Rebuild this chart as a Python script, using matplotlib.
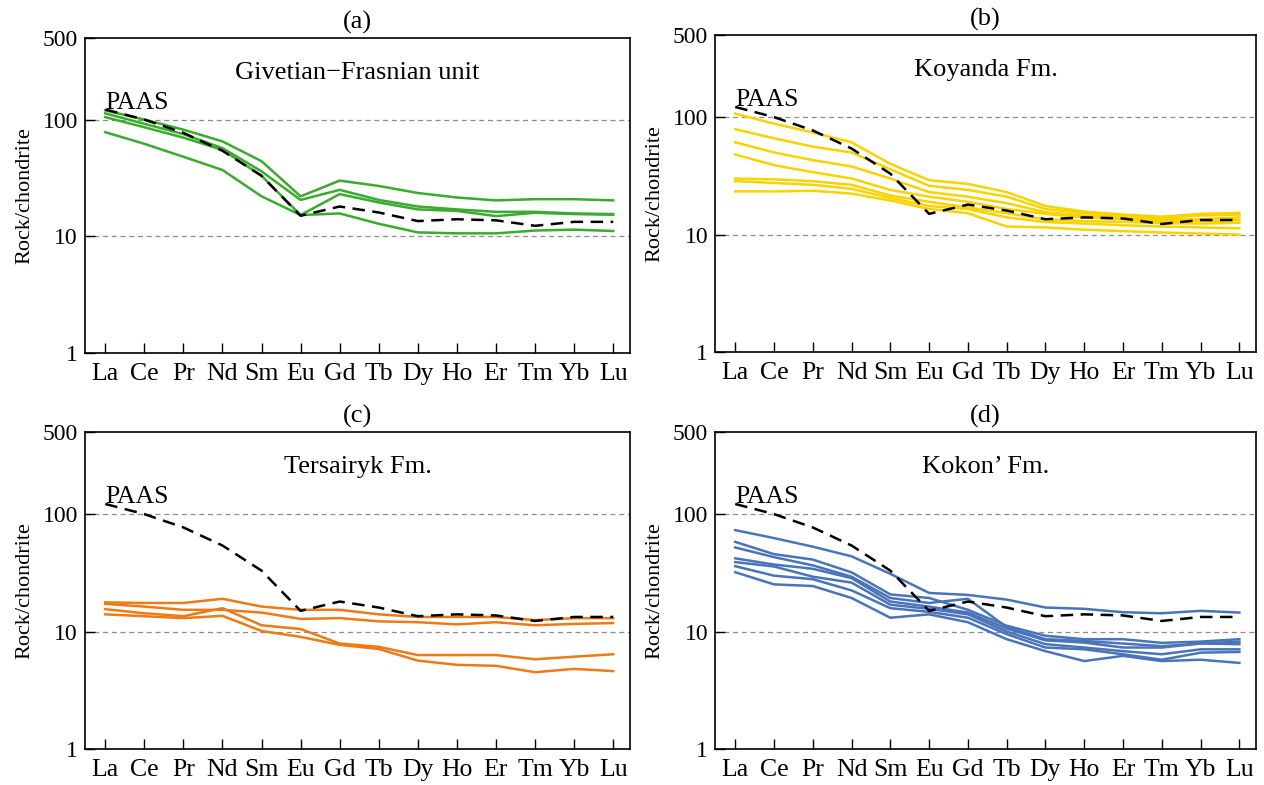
import matplotlib
matplotlib.use("Agg")
import matplotlib.pyplot as plt
from matplotlib.ticker import NullLocator

plt.rcParams['font.family'] = ['Liberation Serif', 'DejaVu Serif']

# REE order on the x axis
elements = ['La', 'Ce', 'Pr', 'Nd', 'Sm', 'Eu', 'Gd', 'Tb', 'Dy', 'Ho', 'Er', 'Tm', 'Yb', 'Lu']

# PAAS, chondrite normalised
paas = [122, 100, 77, 54, 33, 15, 18, 16, 13.5, 14, 13.7, 12.3, 13.3, 13.3]

# (a) Givetian-Frasnian unit
giv_1 = [120, 100, 82, 65, 44, 22, 30, 27, 23.5, 21.5, 20.3, 20.8, 20.8, 20.3]
giv_2 = [113, 92, 75, 57, 36, 20.5, 25, 20.5, 18, 17, 16.2, 16.2, 15.7, 15.5]
giv_3 = [105, 86, 70, 55, 33, 15.2, 23, 19.5, 17, 16.5, 14.9, 15.9, 15.5, 15.3]
giv_4 = [78, 62, 48, 37, 22, 15.2, 15.7, 12.8, 10.8, 10.6, 10.6, 11.2, 11.4, 11.1]

# (b) Koyanda Fm.
koy_1 = [107, 88, 74, 61, 40, 29, 27, 23, 17.5, 15.7, 14.8, 14.2, 15.0, 15.3]
koy_2 = [79, 66, 56, 50, 36, 26, 24, 21, 16.5, 15.2, 14.5, 14.0, 14.5, 14.8]
koy_3 = [61, 50, 43, 38, 30, 23, 21, 18.5, 15.5, 14.5, 14.0, 13.5, 13.5, 14.0]
koy_4 = [48, 39, 34, 30, 24, 21, 19, 16.5, 15.0, 14.0, 13.5, 13.0, 13.0, 13.3]
koy_5 = [30, 29.5, 28.5, 26.5, 21.5, 19, 17, 15.2, 13.5, 13.0, 12.8, 12.5, 12.4, 12.6]
koy_6 = [28.5, 27.5, 26.5, 24.5, 20.5, 17.5, 16.5, 14.0, 12.8, 12.4, 12.0, 11.7, 11.5, 11.3]
koy_7 = [23.3, 23.3, 23.6, 22.3, 19.5, 16.5, 15.2, 11.7, 11.5, 11.0, 10.7, 10.4, 10.2, 10.0]

# (c) Tersairyk Fm.
ter_1 = [17.7, 17.5, 17.5, 19.0, 16.3, 15.3, 15.3, 14.0, 13.3, 13.3, 13.3, 12.5, 13.0, 13.0]
ter_2 = [17.2, 16.3, 15.3, 15.3, 14.5, 12.8, 13.0, 12.2, 12.0, 11.5, 12.0, 11.3, 11.6, 11.8]
ter_3 = [15.5, 14.3, 13.5, 15.8, 11.3, 10.5, 7.9, 7.4, 6.3, 6.3, 6.3, 5.8, 6.1, 6.4]
ter_4 = [14.0, 13.5, 13.0, 13.6, 10.1, 9.0, 7.7, 7.1, 5.65, 5.2, 5.1, 4.5, 4.8, 4.6]

# (d) Kokon' Fm.
kok_1 = [73, 62.5, 52.8, 43.7, 31, 21.3, 20.5, 18.7, 16, 15.6, 14.6, 14.3, 15, 14.5]
kok_2 = [58, 45.6, 41, 31.9, 20.7, 19.3, 15.3, 11.2, 9.2, 8.6, 8.6, 8.0, 8.2, 8.6]
kok_3 = [52, 43, 36.6, 29.3, 19.3, 17.5, 19, 10.9, 8.6, 8.3, 7.9, 7.5, 7.9, 8.2]
kok_4 = [42, 37.2, 34.2, 28.5, 18, 16.3, 14.5, 10.6, 8.4, 8.05, 7.3, 7.3, 7.9, 7.8]
kok_5 = [39, 35.8, 29.3, 26.1, 16.9, 15.6, 14, 10.0, 7.8, 7.3, 6.8, 6.4, 7.05, 7.05]
kok_6 = [36, 29.9, 27.9, 22.4, 15.8, 14.7, 13.1, 9.5, 7.3, 7.05, 6.4, 5.75, 6.6, 6.7]
kok_7 = [32, 25.2, 24.4, 19.3, 13.1, 14, 12, 8.6, 6.8, 5.6, 6.2, 5.6, 5.75, 5.4]

panels = [
    ('(a)', 'Givetian\u2212Frasnian unit', '#3aab2e', [giv_1, giv_2, giv_3, giv_4]),
    ('(b)', 'Koyanda Fm.', '#f8d300', [koy_1, koy_2, koy_3, koy_4, koy_5, koy_6, koy_7]),
    ('(c)', 'Tersairyk Fm.', '#ee7a16', [ter_1, ter_2, ter_3, ter_4]),
    ('(d)', 'Kokon\u2019 Fm.', '#4a74b9', [kok_1, kok_2, kok_3, kok_4, kok_5, kok_6, kok_7]),
]

# axes boxes in figure fractions [left, bottom, width, height]
boxes = [
    [0.0672, 0.5503, 0.4312, 0.4013],
    [0.5657, 0.5516, 0.4280, 0.4038],
    [0.0672, 0.0460, 0.4312, 0.4036],
    [0.5657, 0.0460, 0.4280, 0.4036],
]

fig = plt.figure(figsize=(12.64, 7.85), dpi=100)
x = list(range(len(elements)))

for (tag, name, color, samples), box in zip(panels, boxes):
    ax = fig.add_axes(box)
    ax.set_yscale('log')
    ax.set_ylim(1, 500)
    ax.set_xlim(-0.52, 13.43)

    for grid_y in [10, 100]:
        ax.axhline(grid_y, color='#8c8c8c', lw=0.9, ls=(0, (4, 3)), zorder=1)

    for s in samples:
        ax.plot(x, s, color=color, lw=1.8, zorder=2)
    ax.plot(x, paas, color='black', lw=1.8, ls=(0, (5, 3)), zorder=3)

    ax.set_xticks(x)
    ax.set_xticklabels(elements)
    ax.set_yticks([1, 10, 100, 500])
    ax.set_yticklabels(['1', '10', '100', '500'])
    ax.yaxis.set_minor_locator(NullLocator())
    ax.tick_params(direction='in', length=7, width=1)
    ax.tick_params(axis='x', labelsize=18.5, pad=7)
    ax.tick_params(axis='y', labelsize=17, pad=5)
    for sp in ax.spines.values():
        sp.set_linewidth(1.2)

    ax.set_ylabel('Rock/chondrite', fontsize=16, labelpad=6)
    ax.set_title(tag, fontsize=19, pad=7)
    ax.text(0.5, 0.89, name, transform=ax.transAxes, ha='center', va='center', fontsize=19)
    ax.text(0.037, 0.775, 'PAAS', transform=ax.transAxes, ha='left', va='baseline', fontsize=18.5)

plt.savefig('out.png', dpi=100)
